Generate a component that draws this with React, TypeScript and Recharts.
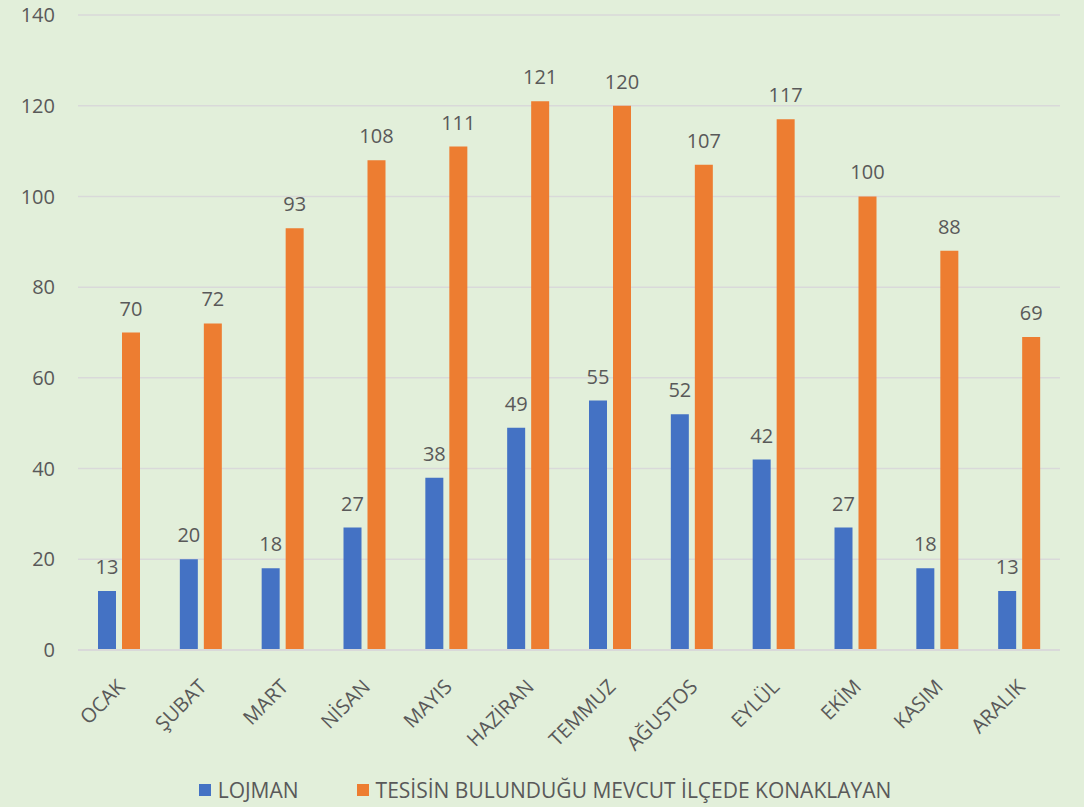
import { BarChart, Bar, XAxis, YAxis, CartesianGrid, Legend, LabelList } from "recharts";

const months = ["OCAK", "ŞUBAT", "MART", "NİSAN", "MAYIS", "HAZİRAN", "TEMMUZ", "AĞUSTOS", "EYLÜL", "EKİM", "KASIM", "ARALIK"];
const lojman = [13, 20, 18, 27, 38, 49, 55, 52, 42, 27, 18, 13];
const ilcede = [70, 72, 93, 108, 111, 121, 120, 107, 117, 100, 88, 69];
const yTicks = [0, 20, 40, 60, 80, 100, 120, 140];

const data = months.map((m, i) => ({ month: m, lojman: lojman[i], ilcede: ilcede[i] }));

const FONT = "'Open Sans', 'Noto Sans', sans-serif";
const TEXT = "#595959";
const BLUE = "#4472C4";
const ORANGE = "#ED7D31";

function MonthTick({ x, y, payload }: { x?: number; y?: number; payload?: { value: string } }) {
  if (x === undefined || y === undefined || !payload) return null;
  const ax = x + 7;
  const ay = y + 30;
  return (
    <text
      x={ax}
      y={ay}
      textAnchor="end"
      transform={`rotate(-45 ${ax} ${ay})`}
      fill={TEXT}
      fontSize={20}
      fontFamily={FONT}
    >
      {payload.value}
    </text>
  );
}

function ChartLegend() {
  const items = [
    { label: "LOJMAN", color: BLUE },
    { label: "TESİSİN BULUNDUĞU MEVCUT İLÇEDE KONAKLAYAN", color: ORANGE },
  ];
  return (
    <div
      style={{
        display: "flex",
        justifyContent: "center",
        gap: 58,
        paddingLeft: 30,
        fontFamily: FONT,
        fontSize: 21,
        color: TEXT,
        lineHeight: "30px",
      }}
    >
      {items.map((it) => (
        <div key={it.label} style={{ display: "flex", alignItems: "center" }}>
          <span style={{ display: "inline-block", width: 12, height: 12, background: it.color, marginRight: 7 }} />
          <span>{it.label}</span>
        </div>
      ))}
    </div>
  );
}

export default function App() {
  return (
    <div style={{ position: "absolute", left: 0, top: 0, width: 1084, height: 807, background: "#E2EFDA" }}>
      <BarChart
        width={1084}
        height={807}
        data={data}
        margin={{ top: 15, right: 24, left: 0, bottom: 2 }}
        barGap={6}
        barSize={18}
      >
        <CartesianGrid vertical={false} stroke="#D9D9D9" strokeWidth={1.5} />
        <XAxis
          dataKey="month"
          interval={0}
          height={125}
          tickLine={false}
          axisLine={{ stroke: "#D9D9D9", strokeWidth: 2 }}
          tick={<MonthTick />}
        />
        <YAxis
          width={78}
          domain={[0, 140]}
          ticks={yTicks}
          axisLine={false}
          tickLine={false}
          tickSize={0}
          tickMargin={23}
          tick={{ fill: TEXT, fontSize: 20, fontFamily: FONT }}
        />
        <Legend verticalAlign="bottom" height={30} content={() => <ChartLegend />} />
        <Bar dataKey="lojman" fill={BLUE} isAnimationActive={false}>
          <LabelList dataKey="lojman" position="top" offset={17} fill={TEXT} fontSize={20} fontFamily={FONT} />
        </Bar>
        <Bar dataKey="ilcede" fill={ORANGE} isAnimationActive={false}>
          <LabelList dataKey="ilcede" position="top" offset={17} fill={TEXT} fontSize={20} fontFamily={FONT} />
        </Bar>
      </BarChart>
    </div>
  );
}
